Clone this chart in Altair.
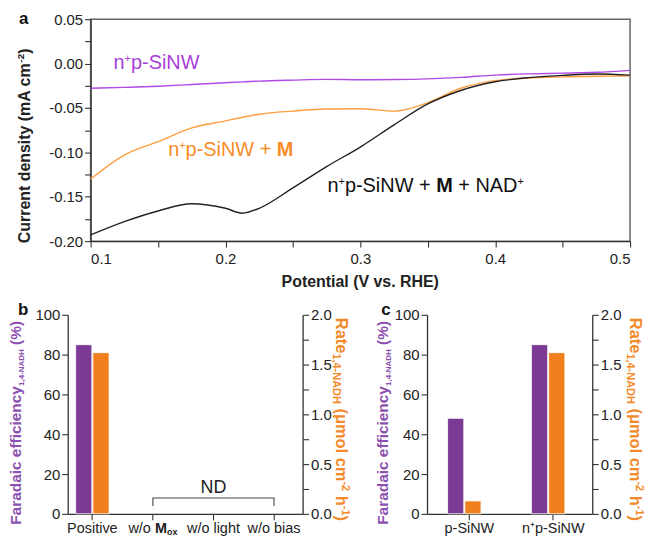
import altair as alt
import pandas as pd

FONT = "Liberation Sans"

# ------------------------------------------------------------------ data: panel a
potential = [0.100, 0.125, 0.150, 0.175, 0.200, 0.2125, 0.225, 0.250, 0.275,
             0.300, 0.325, 0.350, 0.375, 0.400, 0.425, 0.450, 0.475, 0.500]
j_np = [-0.0278, -0.0268, -0.0255, -0.0236, -0.0216, -0.0206, -0.0197, -0.0186, -0.0178,
        -0.0182, -0.0180, -0.0172, -0.0155, -0.0130, -0.0116, -0.0108, -0.0098, -0.0076]
j_np_m = [-0.1300, -0.1030, -0.0880, -0.0725, -0.0645, -0.0605, -0.0570, -0.0535, -0.0512,
          -0.0508, -0.0535, -0.0440, -0.0275, -0.0192, -0.0162, -0.0150, -0.0142, -0.0141]
j_np_m_nad = [-0.1930, -0.1780, -0.1660, -0.1578, -0.1630, -0.1685, -0.1630, -0.1400, -0.1160,
              -0.0940, -0.0690, -0.0455, -0.0300, -0.0205, -0.0158, -0.0133, -0.0117, -0.0130]
j_ticks = [-0.2, -0.175, -0.15, -0.125, -0.1, -0.075, -0.05, -0.025, 0.0, 0.025, 0.05]
v_ticks = [0.1, 0.15, 0.2, 0.25, 0.3, 0.35, 0.4, 0.45, 0.5]

# ------------------------------------------------------------------ data: panels b, c
b_categories = ["Positive", "w/o Mox", "w/o light", "w/o bias"]
b_fe = [85.0, None, None, None]
b_rate = [1.62, None, None, None]
c_categories = ["p-SiNW", "n\u207ap-SiNW"]
c_fe = [48.0, 85.0]
c_rate = [0.13, 1.62]
fe_ticks = [0, 20, 40, 60, 80, 100]
rate_ticks = [0, 0.25, 0.5, 0.75, 1.0, 1.25, 1.5, 1.75, 2.0]
nd_cats = ["w/o Mox", "w/o Mox", "w/o bias", "w/o bias"]
nd_fe = [4.0, 8.0, 8.0, 4.0]

# ------------------------------------------------------------------ style
PURPLE_LINE = "#B04AE6"
PURPLE_LAB = "#A83FD8"
ORANGE_LINE = "#FF9D3F"
ORANGE_LAB = "#F78C28"
BLACK_LINE = "#222222"
PURPLE_BAR = "#7B3B95"
ORANGE_BAR = "#EF801D"
PURPLE_TTL = "#8B50B0"
ORANGE_TTL = "#F38A2A"
INK = "#222222"

REG = {' ': 278, '(': 333, ')': 333, '%': 889, ',': 278, '-': 333, '.': 278, '/': 278, '+': 584,
       'A': 667, 'C': 722, 'D': 722, 'E': 667, 'F': 611, 'H': 722, 'M': 833, 'N': 722, 'P': 667,
       'R': 722, 'S': 667, 'V': 667, 'W': 944, 'a': 556, 'b': 556, 'c': 500, 'd': 556, 'e': 556,
       'f': 278, 'h': 556, 'i': 222, 'l': 222, 'm': 833, 'n': 556, 'o': 556, 'p': 556, 'r': 333,
       's': 500, 't': 278, 'u': 556, 'v': 500, 'w': 722, 'x': 500, 'y': 500, '\u03bc': 576}
BOLD = {' ': 278, '(': 333, ')': 333, '%': 889, ',': 278, '-': 333, '.': 278, '/': 278, '+': 584,
        'A': 722, 'C': 722, 'D': 722, 'E': 667, 'F': 611, 'H': 722, 'M': 833, 'N': 722, 'P': 667,
        'R': 722, 'S': 667, 'V': 667, 'W': 944, 'a': 556, 'b': 611, 'c': 556, 'd': 611, 'e': 556,
        'f': 333, 'h': 611, 'i': 278, 'l': 278, 'm': 889, 'n': 611, 'o': 611, 'p': 611, 'r': 389,
        's': 556, 't': 333, 'u': 611, 'v': 556, 'w': 778, 'x': 556, 'y': 556, '\u03bc': 611}


def tw(s, size, bold=False):
    tab = BOLD if bold else REG
    return sum(tab.get(ch, 556) for ch in s) * size / 1000.0


def rich(segs, x_enc, y_enc, color, fields=None, angle=0, baseline="alphabetic", center=False):
    """Mixed-style text: segs = [(text, size, bold, baseline_shift)]."""
    total = sum(tw(t, s, b) for t, s, b, _ in segs)
    off = -total / 2.0 if center else 0.0
    out = []
    for t, s, b, sh in segs:
        body = t.strip()
        lead = len(t) - len(t.lstrip())
        row = dict(fields or {})
        row["label"] = body
        kw = dict(align="left", baseline=baseline, dx=round(off + tw(" " * lead, s, b), 2), dy=sh,
                  font=FONT, fontSize=s, fontWeight="bold" if b else "normal", color=color)
        if angle:
            kw["angle"] = angle
        out.append(alt.Chart(pd.DataFrame([row])).mark_text(**kw)
                   .encode(x=x_enc, y=y_enc, text="label:N"))
        off += tw(t, s, b)
    return out


def spacer(x, y):
    return alt.Chart(pd.DataFrame([{"label": "."}])).mark_text(
        opacity=0, align="left", fontSize=10, font=FONT
    ).encode(x=alt.value(x), y=alt.value(y), text="label:N")


# ------------------------------------------------------------------ panel a
W_A, H_A = 542, 223
xs_a = alt.Scale(domain=[0.1, 0.5], nice=False, zero=False)
ys_a = alt.Scale(domain=[-0.2, 0.05], nice=False, zero=False)
xax_a = alt.Axis(values=v_ticks, title=None, tickSize=6, labelPadding=4, labelFontSize=15,
                 labelExpr="round(datum.value * 100) % 10 == 0 ? format(datum.value, '.1f') : ''")
yax_a = alt.Axis(values=j_ticks, title=None, tickSize=6, labelPadding=2, labelFontSize=15,
                 labelExpr="abs(round(datum.value * 1000)) % 50 == 0 ? "
                           "replace(format(datum.value, '.2f'), '\u2212', '-') : ''")
X_A = alt.X("v:Q", scale=xs_a, axis=xax_a)
Y_A = alt.Y("j:Q", scale=ys_a, axis=yax_a)


def curve(vals, color):
    df = pd.DataFrame({"v": potential, "j": vals})
    return alt.Chart(df).mark_line(color=color, strokeWidth=1.4, interpolate="monotone").encode(
        x=X_A, y=Y_A)


a_layers = [curve(j_np, PURPLE_LINE), curve(j_np_m, ORANGE_LINE), curve(j_np_m_nad, BLACK_LINE)]
a_layers += rich([("n", 20, False, 0), ("+", 11, False, -7), ("p-SiNW", 20, False, 0)],
                 X_A, Y_A, PURPLE_LAB, fields={"v": 0.117, "j": -0.0056})
a_layers += rich([("n", 20, False, 0), ("+", 11, False, -7), ("p-SiNW + ", 20, False, 0),
                  ("M", 20, True, 0)],
                 X_A, Y_A, ORANGE_LAB, fields={"v": 0.1575, "j": -0.1044})
a_layers += rich([("n", 20, False, 0), ("+", 11, False, -7), ("p-SiNW + ", 20, False, 0),
                  ("M", 20, True, 0), (" + NAD", 20, False, 0), ("+", 11, False, -7)],
                 X_A, Y_A, "#111111", fields={"v": 0.2756, "j": -0.1444})
a_layers += rich([("Current density (mA cm", 16, True, 0), ("-2", 10, True, -6), (")", 16, True, 0)],
                 alt.value(-61), alt.value(H_A + 2), INK, angle=270)
a_layers += rich([("Potential (V vs. RHE)", 16, True, 0)],
                 alt.value(W_A / 2), alt.value(H_A + 46), INK, center=True)
a_layers += rich([("a", 17, True, 0)], alt.value(-72), alt.value(5), "#111111")

panel_a = alt.layer(*a_layers).properties(
    width=W_A, height=H_A, view=alt.ViewBackground(stroke="#666666", strokeWidth=1.5))

# ------------------------------------------------------------------ panels b, c
fe_scale = alt.Scale(domain=[0, 100], nice=False)
rate_scale = alt.Scale(domain=[0, 2], nice=False)
rate_axis = alt.Axis(values=rate_ticks, title=None, orient="right", tickSize=6, labelPadding=2,
                     labelFontSize=15,
                     labelExpr="round(datum.value * 100) % 50 == 0 ? format(datum.value, '.1f') : ''")
xoff = alt.XOffset("series:N", scale=alt.Scale(domain=["FE", "Rate"], paddingInner=0.06))


def bars_df(cats, vals, series):
    rows = [{"cat": c, "series": series, "val": v} for c, v in zip(cats, vals) if v is not None]
    return pd.DataFrame(rows)


def titles(W, H, lx, rx):
    out = rich([("Faradaic efficiency", 15.5, True, 0), ("1,4-NADH", 8, True, 3),
                (" (%)", 15.5, True, 0)],
               alt.value(lx), alt.value(H + 11), PURPLE_TTL, angle=270)
    out += rich([("Rate", 16.5, True, 0), ("1,4-NADH", 11, True, 3), (" (\u03bcmol cm", 16.5, True, 0),
                 ("-2", 11, True, -6), (" h", 16.5, True, 0), ("-1", 11, True, -6), (")", 16.5, True, 0)],
                alt.value(W + rx), alt.value(3), ORANGE_TTL, angle=90)
    return out


def bar_panel(cats, fe, rate, W, H, shift, pad_in, pad_out, align, label_expr,
              letter, letter_x, lx, rx, extra):
    """W = visible plot width; the plot is drawn from -shift to W - shift of its group."""
    G = W - shift
    xscale = alt.Scale(domain=cats, range=[-shift, G], paddingInner=pad_in,
                       paddingOuter=pad_out, align=align)
    xax = alt.Axis(title=None, labelAngle=0, tickSize=6, labelPadding=2, labelFontSize=14.5,
                   labelExpr=label_expr)
    fe_axis = alt.Axis(values=fe_ticks, title=None, orient="left", tickSize=6, labelPadding=2,
                       labelFontSize=15, offset=shift)
    X = alt.X("cat:N", scale=xscale, axis=xax)
    Xc = alt.X("cat:N", scale=xscale, axis=xax, bandPosition=0.5)
    Yfe = alt.Y("val:Q", scale=fe_scale, axis=fe_axis)
    Yrate = alt.Y("val:Q", scale=rate_scale, axis=rate_axis)

    fe_bars = alt.Chart(bars_df(cats, fe, "FE")).mark_bar(
        color=PURPLE_BAR, stroke="white", strokeWidth=0.8).encode(x=X, xOffset=xoff, y=Yfe)
    rate_bars = alt.Chart(bars_df(cats, rate, "Rate")).mark_bar(
        color=ORANGE_BAR, stroke="white", strokeWidth=0.8).encode(x=X, xOffset=xoff, y=Yrate)

    left = [fe_bars] + extra(Xc, Yfe, H)
    left += titles(G, H, lx - shift, rx)
    left += rich([(letter, 17, True, 0)], alt.value(letter_x - shift), alt.value(0), "#111111")
    return alt.layer(alt.layer(*left), rate_bars).resolve_scale(y="independent").properties(
        width=G, height=H)


def extra_b(Xc, Yfe, H):
    bracket = pd.DataFrame({"cat": nd_cats, "val": nd_fe, "k": [0, 1, 2, 3]})
    out = [alt.Chart(bracket).mark_line(color="#444444", strokeWidth=1.1).encode(
        x=Xc, y=Yfe, order="k:Q")]
    out += [alt.Chart(pd.DataFrame([{"cat": "w/o light", "val": 10.4, "label": "ND"}])).mark_text(
        align="center", baseline="alphabetic", font=FONT, fontSize=18, color=INK).encode(
        x=Xc, y=Yfe, text="label:N")]
    out += rich([("w/o ", 14.5, False, 0), ("M", 14.5, True, 0), ("ox", 9, True, 6)],
                Xc, alt.value(H + 8), INK, fields={"cat": "w/o Mox"}, baseline="top", center=True)
    return out


def extra_c(Xc, Yfe, H):
    return []


W_B, H_B = 236, 200
W_C = 166

panel_b = bar_panel(b_categories, b_fe, b_rate, W_B, H_B, 23, 0.448, 0.164, 0.4,
                    "datum.label == 'w/o Mox' ? '' : datum.label", "b", -50, -47, 34, extra_b)
panel_c = bar_panel(c_categories, c_fe, c_rate, W_C, H_B, 0, 0.48, 0.225, 0.545,
                    "datum.label", "c", -46, -39, 38, extra_c)

row2 = alt.hconcat(panel_b, panel_c, spacing=24)
chart = alt.vconcat(panel_a, row2, spacing=10).properties(padding=0).configure(
    font=FONT
).configure_view(strokeWidth=0).configure_axis(
    grid=False, domainColor="#333333", domainWidth=1.3, tickColor="#333333", tickWidth=1.1,
    labelColor="#222222", labelFont=FONT
)

chart.save("out.html", embed_options={"renderer": "svg", "actions": False})
